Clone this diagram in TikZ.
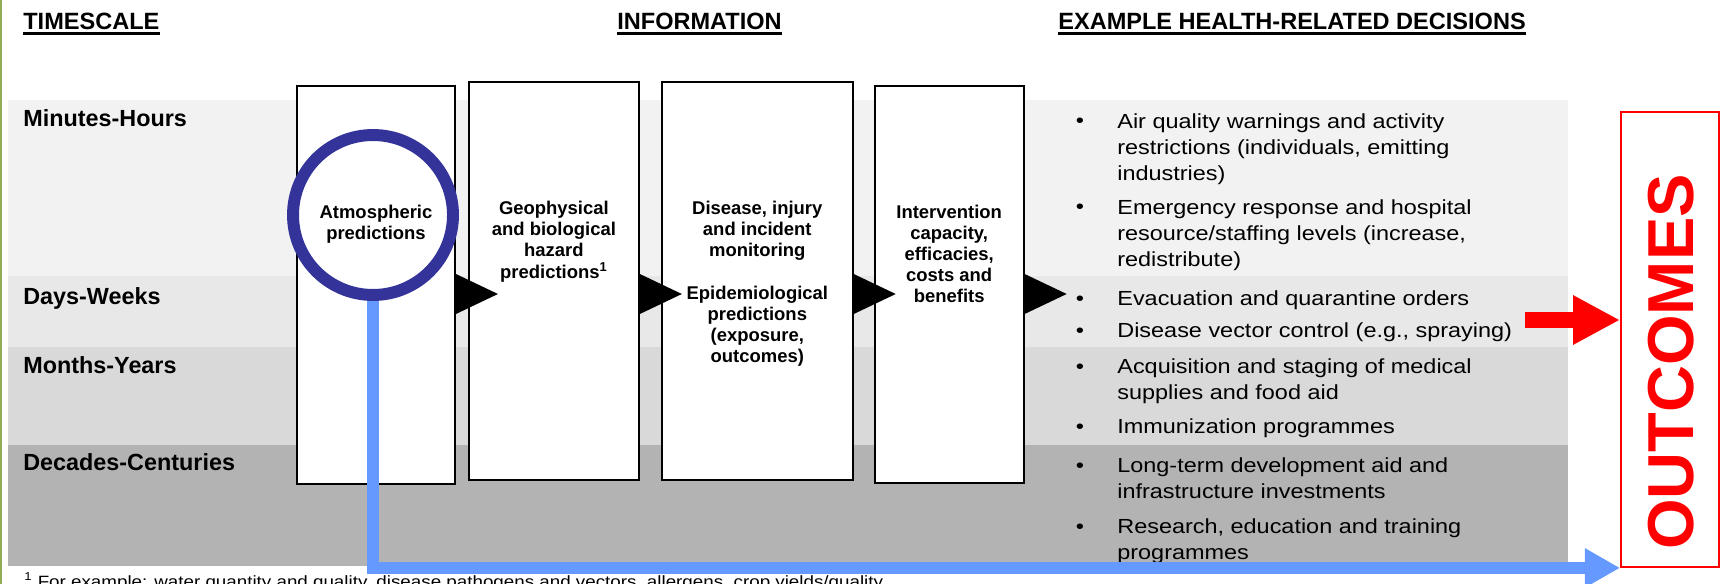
\documentclass[tikz,border=0pt]{standalone}
\usepackage{fontspec}
\setmainfont{Liberation Sans}
\newfontfamily\widefont[FakeStretch=1.15]{Liberation Sans}
\usetikzlibrary{arrows.meta,positioning}
\definecolor{bandone}{HTML}{F2F2F2}
\definecolor{bandtwo}{HTML}{E8E8E8}
\definecolor{bandthree}{HTML}{D9D9D9}
\definecolor{bandfour}{HTML}{B3B3B3}
\definecolor{ringcolor}{HTML}{333399}
\definecolor{linkblue}{HTML}{6699FF}
\definecolor{edgegreen}{RGB}{146,172,84}
\tikzset{
	heading/.style={
		font=\bfseries\fontsize{13.4}{16}\selectfont,
		inner sep=0pt,
		anchor=base west
	},
	timelabel/.style={
		font=\bfseries\fontsize{13.3}{16}\selectfont,
		inner sep=0pt,
		anchor=base west
	},
	infobox/.style={
		rectangle,
		draw=black,
		line width=1.1pt,
		fill=white,
		minimum height=7.96cm,
		inner sep=0pt
	},
	boxtext/.style={
		font=\bfseries\fontsize{10.5}{12}\selectfont,
		align=center,
		inner sep=0pt
	},
	ring/.style={
		circle,
		draw=ringcolor,
		line width=6.8pt,
		minimum size=3.2cm,
		inner sep=0pt
	},
	decision/.style={
		font=\widefont\fontsize{11.6}{15}\selectfont,
		align=left,
		inner sep=0pt,
		anchor=north west
	},
	bulletmark/.style={
		font=\widefont\fontsize{11.6}{15}\selectfont,
		inner sep=0pt,
		anchor=base
	},
	uline/.style={
		line width=1.7pt
	},
	bluelink/.style={
		draw=linkblue,
		line width=6.8pt,
		-{Triangle[length=20pt,width=21pt]}
	},
	redlink/.style={
		draw=red,
		line width=9.1pt,
		-{Triangle[length=26.7pt,width=26.2pt]}
	},
	outbox/.style={
		rectangle,
		draw=red,
		line width=1.1pt,
		minimum width=1.96cm,
		minimum height=9.1cm,
		inner sep=0pt
	},
	outtext/.style={
		font=\bfseries\fontsize{37}{40}\selectfont,
		text=red,
		rotate=90,
		inner sep=0pt
	},
	fnote/.style={
		font=\widefont\fontsize{9.3}{11}\selectfont,
		inner sep=0pt,
		anchor=base west
	}
}

\begin{document}
\begin{tikzpicture}[x=0.02cm,y=-0.02cm]
	\clip (0,0) rectangle (1723,584);
	\fill[bandone] (8,100) rectangle (1568,276);
	\fill[bandtwo] (8,276) rectangle (1568,347);
	\fill[bandthree] (8,347) rectangle (1568,445);
	\fill[bandfour] (8,445) rectangle (1568,566);
	\draw[edgegreen,line width=1.2pt] (1,0) -- (1,584);

	\node[heading] (ts) at (23,30) {TIMESCALE};
	\node[heading] (inf) at (617,30) {INFORMATION};
	\node[heading] (ex) at (1058,30) {EXAMPLE HEALTH-RELATED DECISIONS};
	\draw[uline] ([yshift=-2pt]ts.base west) -- ([yshift=-2pt]ts.base east);
	\draw[uline] ([yshift=-2pt]inf.base west) -- ([yshift=-2pt]inf.base east);
	\draw[uline] ([yshift=-2pt]ex.base west) -- ([yshift=-2pt]ex.base east);

	\node[timelabel] (mh) at (23,127) {Minutes-Hours};
	\node[timelabel] (dw) at (23,304) {Days-Weeks};
	\node[timelabel] (my) at (23,373) {Months-Years};
	\node[timelabel] (dc) at (23,470) {Decades-Centuries};

	\node[infobox,minimum width=3.16cm] (b1) at (376,285) {};
	\node[infobox,minimum width=3.4cm] (b2) [right=0.24cm of b1,yshift=0.08cm] {};
	\node[infobox,minimum width=3.82cm] (b3) [right=0.42cm of b2] {};
	\node[infobox,minimum width=2.98cm] (b4) [right=0.4cm of b3,yshift=-0.07cm] {};
	\node[boxtext] (t1) [below=2.4cm of b1.north] {Atmospheric\\predictions};
	\node[boxtext] (t2) [below=2.4cm of b2.north] {Geophysical\\and biological\\hazard\\predictions\textsuperscript{1}};
	\node[boxtext] (t3) [below=2.4cm of b3.north] {Disease, injury\\and incident\\monitoring\\[12pt]Epidemiological\\predictions\\(exposure,\\outcomes)};
	\node[boxtext] (t4) [below=2.4cm of b4.north] {Intervention\\capacity,\\efficacies,\\costs and\\benefits};
	\coordinate (arrowrow) at (0,294);
	\foreach \b in {b1,b2,b3,b4}
		\fill (\b.east |- arrowrow) ++(0,-20) -- ++(42,20) -- ++(-42,20) -- cycle;
	\node[ring] (atm) at (373,215) {};

	\node[bulletmark] (m1) at (1080,128) {\textbullet};
	\node[bulletmark] (m2) at (1080,214) {\textbullet};
	\node[bulletmark] (m3) at (1080,305) {\textbullet};
	\node[bulletmark] (m4) at (1080,337) {\textbullet};
	\node[bulletmark] (m5) at (1080,373) {\textbullet};
	\node[bulletmark] (m6) at (1080,433) {\textbullet};
	\node[bulletmark] (m7) at (1080,472) {\textbullet};
	\node[bulletmark] (m8) at (1080,533) {\textbullet};
	\node[decision] (d1) at (1117,113) {Air quality warnings and activity\\restrictions (individuals, emitting\\industries)};
	\node[decision] (d2) at (1117,199) {Emergency response and hospital\\resource/staffing levels (increase,\\redistribute)};
	\node[decision] (d3) at (1117,290) {Evacuation and quarantine orders};
	\node[decision] (d4) at (1117,322) {Disease vector control (e.g., spraying)};
	\node[decision] (d5) at (1117,358) {Acquisition and staging of medical\\supplies and food aid};
	\node[decision] (d6) at (1117,418) {Immunization programmes};
	\node[decision] (d7) at (1117,457) {Long-term development aid and\\infrastructure investments};
	\node[decision] (d8) at (1117,518) {Research, education and training\\programmes};

	\node[outbox] (outc) at (1670,339.5) {};
	\node[outtext] (outt) at (1671,362) {OUTCOMES};
	\coordinate (redtail) at (1525,320);
	\draw[redlink] (redtail) -- (redtail -| outc.west);
	\draw[bluelink] (atm.south) |- (outc.south west);

	\node[fnote] (fn) at (24,587) {\textsuperscript{1}\ For example: water quantity and quality, disease pathogens and vectors, allergens, crop yields/quality};
\end{tikzpicture}
\end{document}
